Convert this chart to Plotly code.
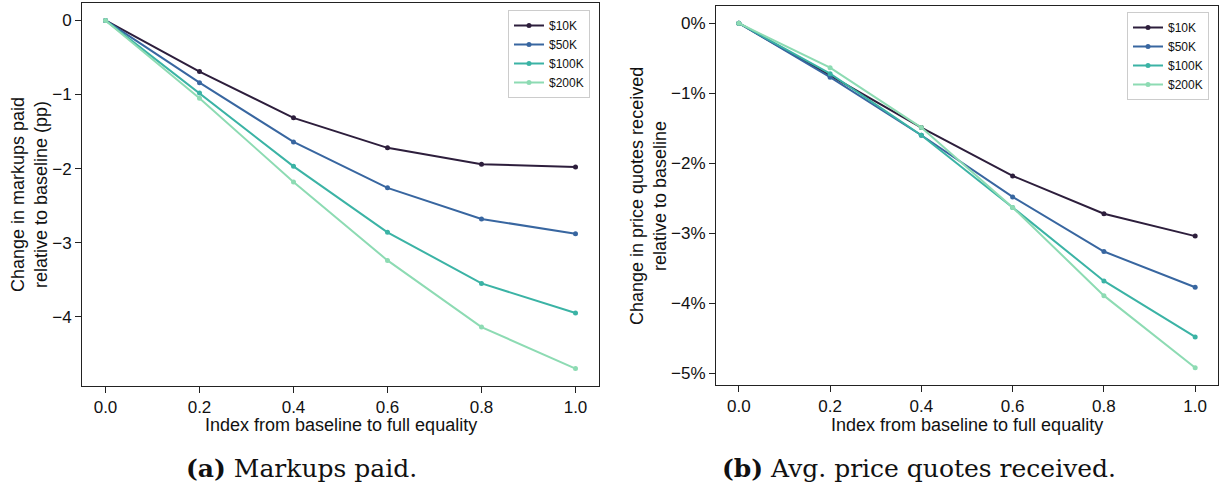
import plotly.graph_objects as go

x_index = [0.0, 0.2, 0.4, 0.6, 0.8, 1.0]
series_names = ["$10K", "$50K", "$100K", "$200K"]
colors = ["#2d1e3c", "#3866a0", "#3bb3a5", "#8ddbb3"]

markups_10k = [0, -0.69, -1.315, -1.72, -1.94, -1.98]
markups_50k = [0, -0.84, -1.64, -2.26, -2.68, -2.88]
markups_100k = [0, -0.98, -1.97, -2.86, -3.55, -3.95]
markups_200k = [0, -1.05, -2.18, -3.24, -4.14, -4.70]

quotes_10k = [0, -0.75, -1.49, -2.18, -2.72, -3.04]
quotes_50k = [0, -0.77, -1.60, -2.48, -3.26, -3.77]
quotes_100k = [0, -0.72, -1.60, -2.63, -3.68, -4.48]
quotes_200k = [0, -0.635, -1.49, -2.63, -3.89, -4.92]

x_ticks = [0.0, 0.2, 0.4, 0.6, 0.8, 1.0]
x_tick_labels = ["0.0", "0.2", "0.4", "0.6", "0.8", "1.0"]
y1_ticks = [0, -1, -2, -3, -4]
y1_tick_labels = ["0", "\u22121", "\u22122", "\u22123", "\u22124"]
y2_ticks = [0, -1, -2, -3, -4, -5]
y2_tick_labels = ["0%", "\u22121%", "\u22122%", "\u22123%", "\u22124%", "\u22125%"]

markups = [markups_10k, markups_50k, markups_100k, markups_200k]
quotes = [quotes_10k, quotes_50k, quotes_100k, quotes_200k]

fig = go.Figure()
for name, col, ys in zip(series_names, colors, markups):
    fig.add_trace(go.Scatter(x=x_index, y=ys, name=name, mode="lines+markers",
                             line=dict(color=col, width=2), marker=dict(size=5, color=col),
                             xaxis="x", yaxis="y", legend="legend"))
for name, col, ys in zip(series_names, colors, quotes):
    fig.add_trace(go.Scatter(x=x_index, y=ys, name=name, mode="lines+markers",
                             line=dict(color=col, width=2), marker=dict(size=5, color=col),
                             xaxis="x2", yaxis="y2", legend="legend2"))

W, H = 1225, 495
def px(xp): return xp / W
def py(yp): return 1 - yp / H

tickfont = dict(family="Liberation Sans, Arial", size=17, color="#111")
axis_common = dict(showgrid=False, zeroline=False, showline=True, linecolor="#222", linewidth=1,
                   mirror=True, ticks="outside", ticklen=6, tickcolor="#222", tickfont=tickfont)

mn1 = min(min(s) for s in markups)
mn2 = min(min(s) for s in quotes)

legend_font = dict(family="Liberation Sans, Arial", size=12, color="#111")

fig.update_layout(
    width=W, height=H, margin=dict(l=0, r=0, t=0, b=0),
    paper_bgcolor="white", plot_bgcolor="white",
    xaxis=dict(domain=[px(82), px(599)], range=[-0.05, 1.05], anchor="y",
               tickvals=x_ticks, ticktext=x_tick_labels, **axis_common),
    yaxis=dict(domain=[py(386), py(3)], range=[mn1 * 1.05, -mn1 * 0.05], anchor="x",
               tickvals=y1_ticks, ticktext=y1_tick_labels, **axis_common),
    xaxis2=dict(domain=[px(716), px(1218)], range=[-0.05, 1.05], anchor="y2",
                tickvals=x_ticks, ticktext=x_tick_labels, **axis_common),
    yaxis2=dict(domain=[py(385), py(6)], range=[mn2 * 1.05, -mn2 * 0.05], anchor="x2",
                tickvals=y2_ticks, ticktext=y2_tick_labels, **axis_common),
    legend=dict(x=px(590), y=py(10), xref="paper", yref="paper", xanchor="right", yanchor="top",
                bgcolor="rgba(255,255,255,0.9)", bordercolor="#ccc", borderwidth=1,
                font=legend_font, tracegroupgap=0, itemwidth=30),
    legend2=dict(x=px(1209), y=py(12), xref="paper", yref="paper", xanchor="right", yanchor="top",
                 bgcolor="rgba(255,255,255,0.9)", bordercolor="#ccc", borderwidth=1,
                 font=legend_font, tracegroupgap=0, itemwidth=30),
    showlegend=True,
)

title_font = dict(family="Liberation Sans, Arial", size=18, color="#111")
caption_font = dict(family="DejaVu Serif, Liberation Serif", size=25, color="#111")
annos = [
    dict(text="Index from baseline to full equality", x=px(341), y=py(425), xref="paper", yref="paper",
         showarrow=False, font=title_font, xanchor="center", yanchor="middle"),
    dict(text="Index from baseline to full equality", x=px(967), y=py(425), xref="paper", yref="paper",
         showarrow=False, font=title_font, xanchor="center", yanchor="middle"),
    dict(text="Change in markups paid<br>relative to baseline (pp)", x=px(29), y=py(195),
         xref="paper", yref="paper", showarrow=False, font=title_font, textangle=-90,
         xanchor="center", yanchor="middle"),
    dict(text="Change in price quotes received<br>relative to baseline", x=px(648), y=py(196),
         xref="paper", yref="paper", showarrow=False, font=title_font, textangle=-90,
         xanchor="center", yanchor="middle"),
    dict(text="<b>(a)</b> Markups paid.", x=px(301), y=py(468), xref="paper", yref="paper",
         showarrow=False, font=caption_font, xanchor="center", yanchor="middle"),
    dict(text="<b>(b)</b> Avg. price quotes received.", x=px(919), y=py(468), xref="paper", yref="paper",
         showarrow=False, font=caption_font, xanchor="center", yanchor="middle"),
]
fig.update_layout(annotations=annos)

fig.write_html("out.html", config={"displayModeBar": False},
               post_script="document.body.style.margin='0px';")
